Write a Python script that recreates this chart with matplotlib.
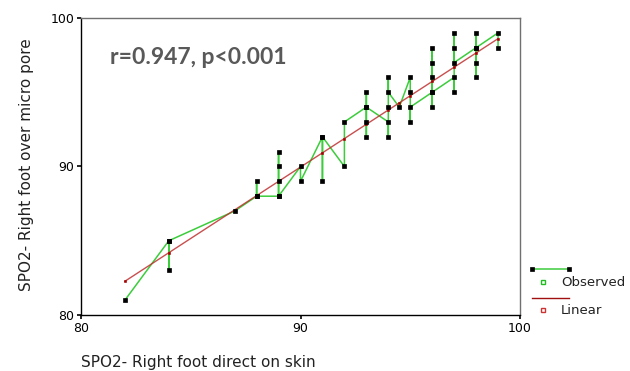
import matplotlib
matplotlib.use("Agg")
import matplotlib.pyplot as plt
from matplotlib.lines import Line2D
from matplotlib.patches import Rectangle
import numpy as np

# Observed readings in recorded order (grouped by skin-reading value)
obs_x = [82,
         84, 84, 84,
         87,
         88, 88, 88,
         89, 89, 89, 89, 89,
         90, 90,
         91, 91, 91,
         92, 92,
         93, 93, 93, 93, 93,
         94, 94, 94, 94, 94,
         94.5,
         95, 95, 95, 95,
         96, 96, 96, 96, 96, 96,
         97, 97, 97, 97, 97,
         98, 98, 98, 98, 98,
         99, 99]
obs_y = [81,
         85, 83, 85,
         87,
         88, 89, 88,
         88, 89, 90, 91, 88,
         90, 89,
         92, 89, 92,
         90, 93,
         94, 93, 92, 95, 94,
         93, 92, 94, 96, 95,
         94,
         96, 95, 93, 94,
         95, 94, 96, 97, 98, 95,
         96, 95, 98, 99, 97,
         98, 96, 97, 99, 98,
         99, 98]

# Linear fit
fit_slope = 0.961
fit_intercept = 3.47

x_ticks = [80, 90, 100]
y_ticks = [80, 90, 100]
x_label = "SPO2- Right foot direct on skin"
y_label = "SPO2- Right foot over micro pore"
stat_text = "r=0.947, p<0.001"

green = "#3ccc3c"
red = "#c03030"
label_font = "DejaVu Sans"

W, H = 630.0, 371.0
fig = plt.figure(figsize=(W / 100, H / 100), dpi=100)
ax = fig.add_axes([81 / W, 1 - 315 / H, (520 - 81) / W, (315 - 18) / H])

ax.plot(obs_x, obs_y, color=green, lw=1.1, zorder=2)
ax.plot(obs_x, obs_y, ls="none", marker="s", ms=2.4, mew=0.5, mec="black",
        mfc="black", zorder=4)

fx = np.array(sorted(set(obs_x)))
fy = fit_intercept + fit_slope * fx
ax.plot(fx, fy, color=red, lw=1.0, alpha=0.85, zorder=3)
ax.plot(fx, fy, ls="none", marker="s", ms=1.8, mew=0.4, mec="#a00000",
        mfc="#a00000", zorder=3)

ax.set_xlim(80, 100)
ax.set_ylim(80, 100)
ax.set_xticks(x_ticks)
ax.set_yticks(y_ticks)
ax.tick_params(direction="out", length=3, width=1.2, labelsize=9, pad=2,
               colors="black")
for lab in ax.get_xticklabels() + ax.get_yticklabels():
    lab.set_family(label_font)
for s in ["left", "bottom"]:
    ax.spines[s].set_color("black")
    ax.spines[s].set_linewidth(1.0)
for s in ["top", "right"]:
    ax.spines[s].set_color("#707070")
    ax.spines[s].set_linewidth(1.0)

fig.text(110 / W, 1 - 57 / H, stat_text, fontsize=16.5, fontweight="bold",
         color="#595959", family="Lato", va="center", ha="left")

fig.text(27 / W, 1 - 165 / H, y_label, rotation=90, ha="center", va="center",
         fontsize=11, family=label_font, color="#222222")
fig.text(81 / W, 1 - 362 / H, x_label, ha="left", va="center", fontsize=11,
         family=label_font, color="#222222")

# Legend drawn beside the plot area
def px(x):
    return x / W

def py(y):
    return 1 - y / H

fig.add_artist(Line2D([px(532), px(569)], [py(269), py(269)],
                      color=green, lw=1.1, transform=fig.transFigure))
fig.add_artist(Line2D([px(532), px(569)], [py(269), py(269)], ls="none",
                      marker="s", ms=2.2, mew=0.5, mec="black", mfc="black",
                      transform=fig.transFigure))
fig.add_artist(Rectangle((px(541), py(284)), 4 / W, 4 / H, fill=False,
                         ec="#22bb22", lw=1.0, transform=fig.transFigure))
fig.text(px(561), py(282), "Observed", fontsize=9.5, family=label_font,
         va="center", ha="left", color="#222222")
fig.add_artist(Line2D([px(532), px(569)], [py(297.5), py(297.5)],
                      color="#a01010", lw=1.0, transform=fig.transFigure))
fig.add_artist(Rectangle((px(541), py(312)), 4 / W, 4 / H, fill=False,
                         ec="#cc3333", lw=1.0, transform=fig.transFigure))
fig.text(px(561), py(310), "Linear", fontsize=9.5, family=label_font,
         va="center", ha="left", color="#222222")

fig.savefig("out.png", dpi=100)
